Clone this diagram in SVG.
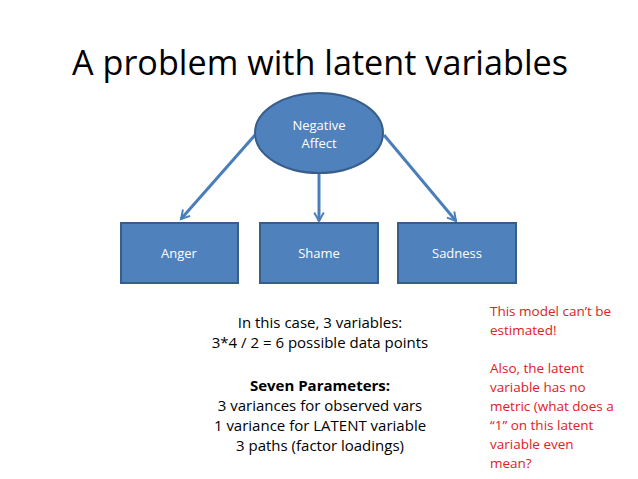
<svg xmlns="http://www.w3.org/2000/svg" width="638" height="479" viewBox="0 0 638 479">
<style>
.node{fill:#4f81bd;stroke:#385d8a;stroke-width:2}
.nt{font-family:"Open Sans","Liberation Sans",sans-serif;font-size:13px;fill:#fff;text-anchor:middle}
.conn{stroke:#4a7ebb;stroke-width:3;fill:none}
.body{font-family:"Open Sans","Liberation Sans",sans-serif;font-size:15px;fill:#000;text-anchor:middle}
.red{font-family:"Open Sans","Liberation Sans",sans-serif;font-size:13.5px;fill:#e0201e}
</style>
<defs>
<marker id="ah" viewBox="0 0 10 10" refX="8" refY="5" markerWidth="4" markerHeight="4" orient="auto" markerUnits="strokeWidth">
<path d="M1,1 L8,5 L1,9" fill="none" stroke="#4a7ebb" stroke-width="1.6"/>
</marker>
</defs>
<rect width="638" height="479" fill="#fff"/>
<text x="72" y="75" font-family="'Open Sans','Liberation Sans',sans-serif" font-size="34" fill="#000" textLength="496" lengthAdjust="spacingAndGlyphs">A problem with latent variables</text>
<g id="connectors">
<line class="conn" x1="255" y1="135" x2="181" y2="219" marker-end="url(#ah)"/>
<line class="conn" x1="319" y1="173" x2="319" y2="221" marker-end="url(#ah)"/>
<line class="conn" x1="384" y1="135" x2="456" y2="221" marker-end="url(#ah)"/>
</g>
<g id="negative-affect">
<ellipse class="node" cx="319" cy="133" rx="64" ry="40"/>
<text class="nt" x="319" y="130">Negative</text>
<text class="nt" x="319" y="148">Affect</text>
</g>
<g id="anger">
<rect class="node" x="121" y="223" width="117" height="60"/>
<text class="nt" x="179" y="258">Anger</text>
</g>
<g id="shame">
<rect class="node" x="260" y="223" width="118" height="60"/>
<text class="nt" x="319" y="258">Shame</text>
</g>
<g id="sadness">
<rect class="node" x="398" y="223" width="118" height="60"/>
<text class="nt" x="457" y="258">Sadness</text>
</g>
<g>
<text class="body" x="320" y="328">In this case, 3 variables:</text>
<text class="body" x="320" y="348">3*4 / 2 = 6 possible data points</text>
<text class="body" x="320" y="391" font-weight="bold">Seven Parameters:</text>
<text class="body" x="320" y="411">3 variances for observed vars</text>
<text class="body" x="320" y="431">1 variance for LATENT variable</text>
<text class="body" x="320" y="451">3 paths (factor loadings)</text>
</g>
<g>
<text class="red" x="490" y="316">This model can’t be</text>
<text class="red" x="490" y="335">estimated!</text>
<text class="red" x="490" y="373">Also, the latent</text>
<text class="red" x="490" y="392">variable has no</text>
<text class="red" x="490" y="411">metric (what does a</text>
<text class="red" x="490" y="430">“1” on this latent</text>
<text class="red" x="490" y="449">variable even</text>
<text class="red" x="490" y="468">mean?</text>
</g>
</svg>
